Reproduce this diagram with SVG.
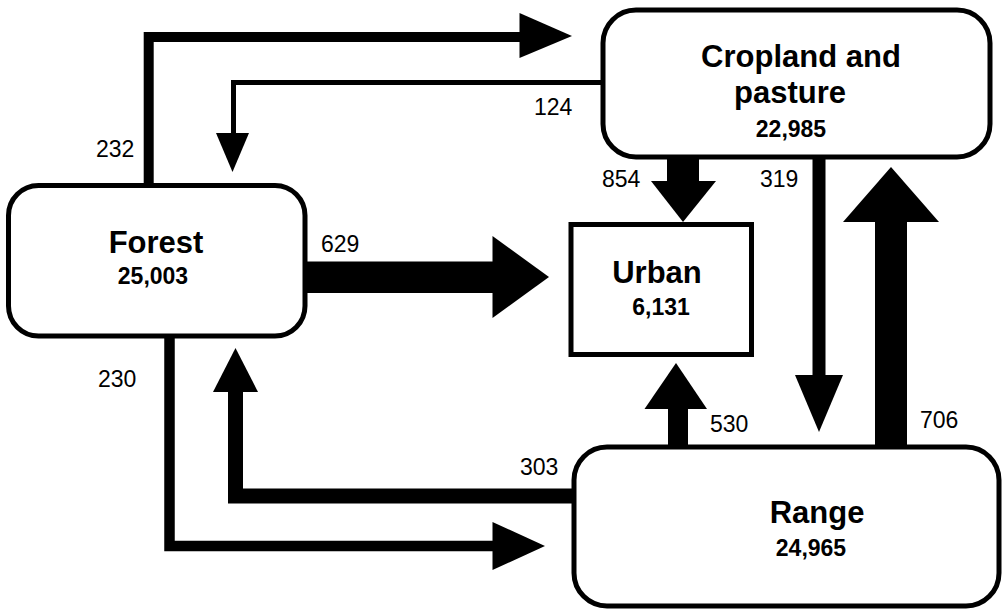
<svg xmlns="http://www.w3.org/2000/svg" width="1003" height="611" viewBox="0 0 1003 611">
<style>
.box{fill:#fff;stroke:#000;stroke-width:5}
.name{font-family:"Liberation Sans",Arial,sans-serif;font-weight:bold;font-size:31px;text-anchor:middle;fill:#000}
.val{font-family:"Liberation Sans",Arial,sans-serif;font-weight:bold;font-size:23px;text-anchor:middle;fill:#000}
.lbl{font-family:"Liberation Sans",Arial,sans-serif;font-size:23px;fill:#000}
.line{fill:none;stroke:#000;stroke-linejoin:miter;stroke-linecap:butt}
.head{fill:#000;stroke:none}
</style>
<rect width="1003" height="611" fill="#fff"/>
<g id="connectors">
  <!-- 232 Forest -> Cropland -->
  <path class="line" d="M148.7,185 V37 H521" stroke-width="10"/>
  <polygon class="head" points="519.5,13 572,36 519.5,58"/>
  <!-- 124 Cropland -> Forest -->
  <path class="line" d="M603,82.5 H233.5 V134" stroke-width="5"/>
  <polygon class="head" points="216,133 249,133 232.5,172"/>
  <!-- 629 Forest -> Urban -->
  <rect class="head" x="305" y="261.5" width="188" height="31.5"/>
  <polygon class="head" points="492.5,236 549,277 492.5,318"/>
  <!-- 854 Cropland -> Urban -->
  <rect class="head" x="667" y="156" width="32" height="26"/>
  <polygon class="head" points="651,181 716,181 683,222"/>
  <!-- 319 Cropland -> Range -->
  <rect class="head" x="812.5" y="156" width="13" height="220"/>
  <polygon class="head" points="795,375 843,375 819,432"/>
  <!-- 706 Range -> Cropland -->
  <rect class="head" x="875" y="221" width="32" height="227"/>
  <polygon class="head" points="843,222 939,222 891,167"/>
  <!-- 530 Range -> Urban -->
  <rect class="head" x="668" y="408" width="20" height="40"/>
  <polygon class="head" points="644.5,409 707,409 676,363"/>
  <!-- 303 Range -> Forest -->
  <path class="line" d="M575,496 H235.5 V392" stroke-width="15"/>
  <polygon class="head" points="213,392 258,392 235.5,348"/>
  <!-- 230 Forest -> Range -->
  <path class="line" d="M169.5,336 V546 H494" stroke-width="10.5"/>
  <polygon class="head" points="492.5,522 545,546 492.5,570"/>
</g>
<g id="labels">
  <text class="lbl" x="96" y="157">232</text>
  <text class="lbl" x="534" y="115">124</text>
  <text class="lbl" x="321" y="252">629</text>
  <text class="lbl" x="602" y="187">854</text>
  <text class="lbl" x="760" y="187">319</text>
  <text class="lbl" x="98" y="387">230</text>
  <text class="lbl" x="520" y="475">303</text>
  <text class="lbl" x="710" y="432">530</text>
  <text class="lbl" x="920" y="428">706</text>
</g>
<g id="cropland">
  <rect class="box" x="603" y="10" width="387" height="147" rx="33"/>
  <text class="name" x="801" y="67">Cropland and</text>
  <text class="name" x="790" y="103">pasture</text>
  <text class="val" x="791" y="137">22,985</text>
</g>
<g id="forest">
  <rect class="box" x="8.5" y="185.5" width="296.5" height="150.5" rx="30"/>
  <text class="name" x="156" y="253">Forest</text>
  <text class="val" x="153" y="284">25,003</text>
</g>
<g id="urban">
  <rect class="box" x="571" y="224.5" width="180.5" height="130" stroke-width="4.5"/>
  <text class="name" x="657" y="283">Urban</text>
  <text class="val" x="661" y="315">6,131</text>
</g>
<g id="range">
  <rect class="box" x="574" y="447" width="425" height="159" rx="33"/>
  <text class="name" x="817" y="523">Range</text>
  <text class="val" x="811" y="556">24,965</text>
</g>
</svg>
